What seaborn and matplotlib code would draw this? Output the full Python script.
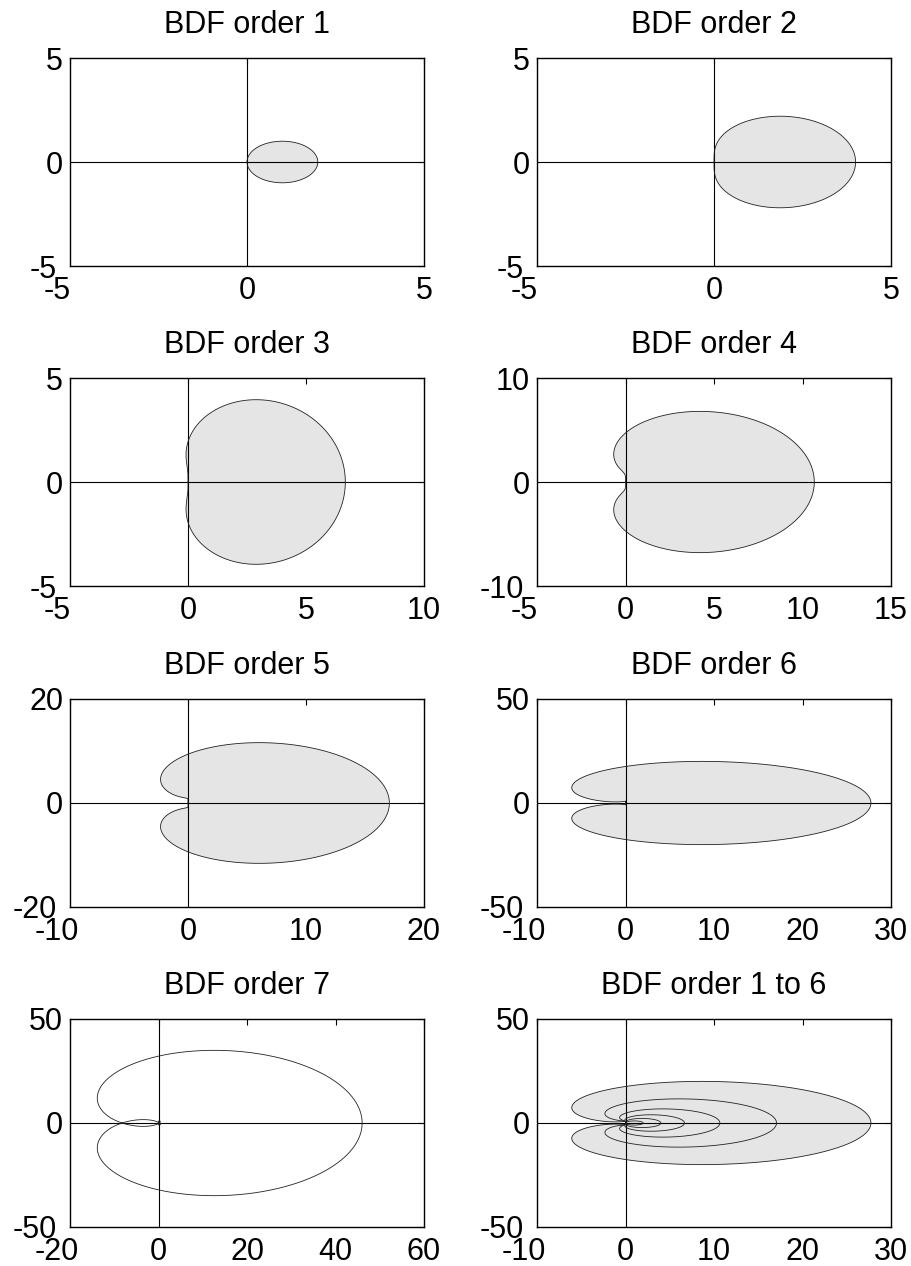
import numpy as np
import pandas as pd
import matplotlib
matplotlib.use("Agg")
import matplotlib.pyplot as plt
import matplotlib.transforms as mtransforms
import seaborn as sns

# Panels: which BDF orders are traced, which one is shaded, and the axis setup
panel_titles = ["BDF order 1", "BDF order 2", "BDF order 3", "BDF order 4",
                "BDF order 5", "BDF order 6", "BDF order 7", "BDF order 1 to 6"]
panel_orders = [[1], [2], [3], [4], [5], [6], [7], [1, 2, 3, 4, 5, 6]]
shaded_order = [1, 2, 3, 4, 5, 6, None, 6]
x_limits = [(-5, 5), (-5, 5), (-5, 10), (-5, 15), (-10, 20), (-10, 30), (-20, 60), (-10, 30)]
y_limits = [(-5, 5), (-5, 5), (-5, 5), (-10, 10), (-20, 20), (-50, 50), (-50, 50), (-50, 50)]
x_ticks = [[-5, 0, 5], [-5, 0, 5], [-5, 0, 5, 10], [-5, 0, 5, 10, 15],
           [-10, 0, 10, 20], [-10, 0, 10, 20, 30], [-20, 0, 20, 40, 60], [-10, 0, 10, 20, 30]]
y_ticks = [[-5, 0, 5], [-5, 0, 5], [-5, 0, 5], [-10, 0, 10],
           [-20, 0, 20], [-50, 0, 50], [-50, 0, 50], [-50, 0, 50]]


def boundary_locus(k, n=3001):
    """Boundary of the BDF-k stability region: z = sum_j (1 - e^{-i t})^j / j."""
    t = np.linspace(0.0, 2.0 * np.pi, n)
    d = 1.0 - np.exp(-1j * t)
    z = sum(d ** j / j for j in range(1, k + 1))
    return pd.DataFrame({"re": z.real, "im": z.imag, "t": t})


sns.set_theme(style="white")
plt.rcParams["font.family"] = ["Liberation Sans", "DejaVu Sans"]

fig = plt.figure(figsize=(9.11, 12.66), dpi=100)

ax_w = 354 / 911
ax_h = 208 / 1266
lefts = [70 / 911, 537 / 911]
tops_px = [58, 378, 699, 1019]

# negative tick labels sit a little to the left of their tick
neg_shift_x = mtransforms.ScaledTranslation(-13 / 100, 0, fig.dpi_scale_trans)
neg_shift_y = mtransforms.ScaledTranslation(-6 / 100, 0, fig.dpi_scale_trans)

for i in range(8):
    row, col = divmod(i, 2)
    bottom = 1 - (tops_px[row] + 208) / 1266
    ax = fig.add_axes([lefts[col], bottom, ax_w, ax_h])

    if shaded_order[i] is not None:
        df = boundary_locus(shaded_order[i])
        ax.fill(df["re"], df["im"], color="#e5e5e5", lw=0, zorder=1)

    ax.axhline(0, color="black", lw=0.8, zorder=2)
    ax.axvline(0, color="black", lw=0.8, zorder=2)

    for k in panel_orders[i]:
        df = boundary_locus(k)
        sns.lineplot(data=df, x="re", y="im", sort=False, estimator=None,
                     color="#222222", lw=0.6, ax=ax, zorder=3)

    ax.set_xlim(*x_limits[i])
    ax.set_ylim(*y_limits[i])
    ax.set_xticks(x_ticks[i])
    ax.set_yticks(y_ticks[i])
    ax.set_xticklabels([str(v) for v in x_ticks[i]])
    ax.set_yticklabels([str(v) for v in y_ticks[i]])
    ax.set_xlabel("")
    ax.set_ylabel("")
    ax.tick_params(direction="in", top=True, right=True, length=4, width=0.8,
                   labelsize=22, colors="black")
    ax.tick_params(axis="x", pad=7)
    ax.tick_params(axis="y", pad=5)
    for v, lab in zip(x_ticks[i], ax.get_xticklabels()):
        if v < 0:
            lab.set_transform(lab.get_transform() + neg_shift_x)
    for v, lab in zip(y_ticks[i], ax.get_yticklabels()):
        if v < 0:
            lab.set_transform(lab.get_transform() + neg_shift_y)
    for s in ax.spines.values():
        s.set_visible(True)
        s.set_color("black")
        s.set_linewidth(1.0)
    ax.set_title(panel_titles[i], fontsize=22, pad=18, color="black")

fig.savefig("out.png", dpi=100, facecolor="white")
